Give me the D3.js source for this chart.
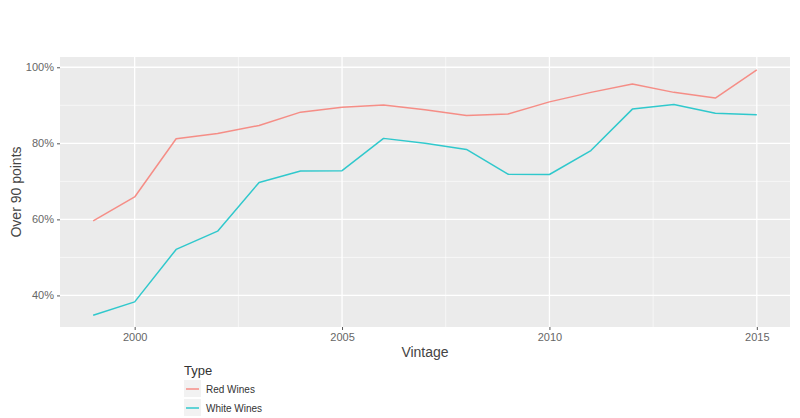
<!DOCTYPE html>
<html>
<head>
<meta charset="utf-8">
<script src="https://cdn.jsdelivr.net/npm/d3@7"></script>
<style>
  body { margin: 0; background: #fff; }
  svg { display: block; font-family: "Liberation Sans", Arial, sans-serif; }
</style>
</head>
<body>
<script>
// DATA
const vintages = [1999, 2000, 2001, 2002, 2003, 2004, 2005, 2006, 2007, 2008, 2009, 2010, 2011, 2012, 2013, 2014, 2015];
const redWines = [59.6, 65.9, 81.2, 82.6, 84.7, 88.2, 89.5, 90.1, 88.8, 87.3, 87.7, 90.9, 93.4, 95.6, 93.4, 91.9, 99.3];
const whiteWines = [34.8, 38.3, 52.1, 56.9, 69.7, 72.7, 72.8, 81.3, 80.0, 78.4, 71.9, 71.8, 78.1, 89.0, 90.2, 87.9, 87.5];
const seriesNames = ["Red Wines", "White Wines"];
const xTicks = [2000, 2005, 2010, 2015];
const xMinor = [2002.5, 2007.5, 2012.5];
const yTicks = [40, 60, 80, 100];
const yMinor = [50, 70, 90];

const width = 800;
const height = 418;
const panel = { left: 60, right: 790, top: 57, bottom: 327 };
const colors = ["#F8766D", "#00BFC4"];

const svg = d3.select("body").append("svg")
  .attr("width", width)
  .attr("height", height);

// SCALES
const xScale = d3.scaleLinear()
  .domain([1999 - 0.8, 2015 + 0.8])
  .range([panel.left, panel.right]);

const yScale = d3.scaleLinear()
  .domain([31.7, 102.7])
  .range([panel.bottom, panel.top]);

// PANEL
svg.append("rect")
  .attr("x", panel.left)
  .attr("y", panel.top)
  .attr("width", panel.right - panel.left)
  .attr("height", panel.bottom - panel.top)
  .attr("fill", "#EBEBEB");

const grid = svg.append("g");
grid.selectAll(".ymin").data(yMinor).enter().append("line")
  .attr("x1", panel.left).attr("x2", panel.right)
  .attr("y1", d => yScale(d)).attr("y2", d => yScale(d))
  .attr("stroke", "#fff").attr("stroke-width", 0.6);
grid.selectAll(".xmin").data(xMinor).enter().append("line")
  .attr("y1", panel.top).attr("y2", panel.bottom)
  .attr("x1", d => xScale(d)).attr("x2", d => xScale(d))
  .attr("stroke", "#fff").attr("stroke-width", 0.6);
grid.selectAll(".ymaj").data(yTicks).enter().append("line")
  .attr("x1", panel.left).attr("x2", panel.right)
  .attr("y1", d => yScale(d)).attr("y2", d => yScale(d))
  .attr("stroke", "#fff").attr("stroke-width", 1.3);
grid.selectAll(".xmaj").data(xTicks).enter().append("line")
  .attr("y1", panel.top).attr("y2", panel.bottom)
  .attr("x1", d => xScale(d)).attr("x2", d => xScale(d))
  .attr("stroke", "#fff").attr("stroke-width", 1.3);

// AXES
const xAxis = d3.axisBottom(xScale)
  .tickValues(xTicks)
  .tickFormat(d => d)
  .tickSize(3)
  .tickPadding(3);
const yAxis = d3.axisLeft(yScale)
  .tickValues(yTicks)
  .tickFormat(d => d + "%")
  .tickSize(3)
  .tickPadding(3);

const gx = svg.append("g")
  .attr("transform", `translate(0,${panel.bottom})`)
  .call(xAxis);
const gy = svg.append("g")
  .attr("transform", `translate(${panel.left},0)`)
  .call(yAxis);

[gx, gy].forEach(g => {
  g.select(".domain").remove();
  g.selectAll(".tick line").attr("stroke", "#555").attr("stroke-width", 1);
  g.selectAll(".tick text").attr("fill", "#666").style("font-size", "11px");
});

svg.append("text")
  .attr("x", (panel.left + panel.right) / 2)
  .attr("y", 357)
  .attr("text-anchor", "middle")
  .attr("fill", "#444")
  .style("font-size", "14px")
  .text("Vintage");

svg.append("text")
  .attr("transform", `translate(21,${(panel.top + panel.bottom) / 2}) rotate(-90)`)
  .attr("text-anchor", "middle")
  .attr("fill", "#444")
  .style("font-size", "14px")
  .text("Over 90 points");

// LINES
const series = [redWines, whiteWines];
const line = d3.line()
  .x((d, i) => xScale(vintages[i]))
  .y(d => yScale(d));

svg.selectAll(".series").data(series).enter().append("path")
  .attr("d", d => line(d))
  .attr("fill", "none")
  .attr("stroke", (d, i) => colors[i])
  .attr("stroke-width", 1.5)
  .attr("stroke-opacity", 0.8)
  .attr("stroke-linejoin", "round");

// LEGEND
const legend = svg.append("g").attr("transform", "translate(184,0)");
legend.append("text")
  .attr("x", 0).attr("y", 375)
  .attr("fill", "#333")
  .style("font-size", "13px")
  .text("Type");

const keys = legend.selectAll(".key").data(seriesNames).enter().append("g")
  .attr("transform", (d, i) => `translate(0,${380 + i * 19})`);
keys.append("rect")
  .attr("width", 17).attr("height", 17)
  .attr("fill", "#F2F2F2");
keys.append("line")
  .attr("x1", 2).attr("x2", 15)
  .attr("y1", 9).attr("y2", 9)
  .attr("stroke", (d, i) => colors[i])
  .attr("stroke-opacity", 0.8)
  .attr("stroke-width", 1.5);
keys.append("text")
  .attr("x", 22).attr("y", 13)
  .attr("fill", "#333")
  .style("font-size", "10px")
  .text(d => d);
</script>
</body>
</html>
